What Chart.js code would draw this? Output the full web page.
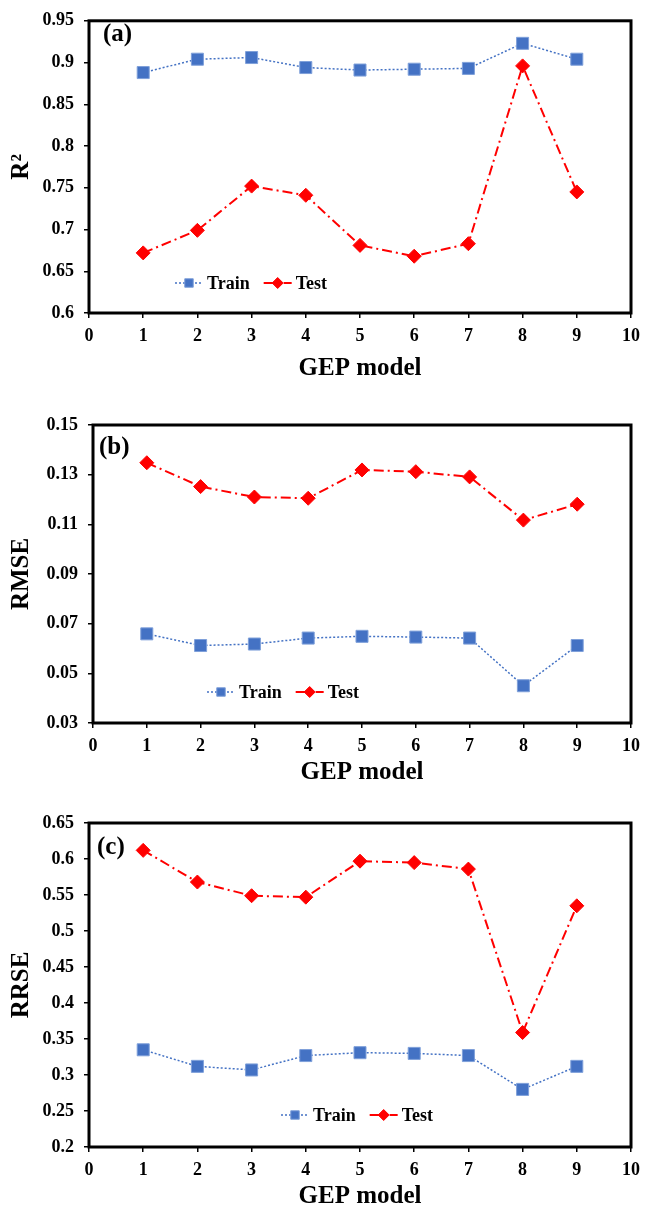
<!DOCTYPE html>
<html>
<head>
<meta charset="utf-8">
<title>GEP model</title>
<script src="https://cdn.jsdelivr.net/npm/chart.js@4.4.0/dist/chart.umd.min.js"></script>
<style>
    body { margin: 0; background: #ffffff; }
    canvas { display: block; }
</style>
</head>
<body>
<canvas id="chartA" width="648" height="400"></canvas>
<canvas id="chartB" width="648" height="395"></canvas>
<canvas id="chartC" width="648" height="415"></canvas>
<script>
// Data
var models = [1, 2, 3, 4, 5, 6, 7, 8, 9];
var xTicks = [0, 1, 2, 3, 4, 5, 6, 7, 8, 9, 10];

var r2Train = [0.888, 0.904, 0.906, 0.894, 0.891, 0.892, 0.893, 0.923, 0.904];
var r2Test = [0.672, 0.699, 0.752, 0.741, 0.681, 0.668, 0.683, 0.896, 0.745];
var r2Ticks = [0.6, 0.65, 0.7, 0.75, 0.8, 0.85, 0.9, 0.95];

var rmseTrain = [0.0659, 0.0612, 0.0618, 0.0642, 0.0649, 0.0646, 0.0642, 0.0450, 0.0612];
var rmseTest = [0.1348, 0.1252, 0.1210, 0.1205, 0.1319, 0.1312, 0.1291, 0.1117, 0.1181];
var rmseTicks = [0.03, 0.05, 0.07, 0.09, 0.11, 0.13, 0.15];

var rrseTrain = [0.335, 0.312, 0.307, 0.327, 0.331, 0.330, 0.327, 0.280, 0.312];
var rrseTest = [0.612, 0.568, 0.549, 0.547, 0.597, 0.595, 0.586, 0.359, 0.535];
var rrseTicks = [0.2, 0.25, 0.3, 0.35, 0.4, 0.45, 0.5, 0.55, 0.6, 0.65];

var FONT = "'Liberation Serif', 'Times New Roman', serif";
var BLUE = "#4472C4";
var RED = "#FF0000";

function toPoints(values) {
    return models.map(function (m, i) {
        return { x: m, y: values[i] };
    });
}

// box round the plot, panel letter and the legend inside the plot
var framePlugin = {
    id: "frame",
    afterDraw: function (chart) {
        var ctx = chart.ctx;
        var area = chart.chartArea;
        var o = chart.options.plugins.frame;
        ctx.save();
        ctx.strokeStyle = "#000";
        ctx.lineWidth = 3;
        ctx.strokeRect(area.left, area.top, area.right - area.left, area.bottom - area.top);

        ctx.fillStyle = "#000";
        ctx.font = "bold 25px " + FONT;
        ctx.textBaseline = "middle";
        ctx.textAlign = "left";
        ctx.fillText(o.panel, o.panelX, o.panelY);

        // legend
        var x = o.legendX;
        var y = o.legendY;
        ctx.font = "bold 18px " + FONT;
        chart.data.datasets.forEach(function (ds) {
            ctx.strokeStyle = ds.borderColor;
            ctx.lineWidth = ds.borderWidth;
            ctx.setLineDash(ds.borderDash);
            ctx.beginPath();
            ctx.moveTo(x, y);
            ctx.lineTo(x + 28, y);
            ctx.stroke();
            ctx.setLineDash([]);
            ctx.fillStyle = ds.pointBackgroundColor;
            ctx.strokeStyle = ds.pointBorderColor;
            ctx.lineWidth = 1;
            Chart.helpers.drawPoint(ctx, {
                pointStyle: ds.pointStyle,
                rotation: 0,
                radius: ds.pointStyle === "rect" ? 6 : 5.5,
                borderWidth: 1
            }, x + 14, y);
            ctx.fillStyle = "#000";
            ctx.fillText(ds.label, x + 32, y + 1);
            x += 32 + ctx.measureText(ds.label).width + 14;
        });
        ctx.restore();
    }
};

function makeChart(id, opts) {
    var ctx = document.getElementById(id).getContext("2d");
    var h = ctx.canvas.height;

    var chartData = {
        datasets: [
            {
                label: "Train",
                data: toPoints(opts.train),
                borderColor: BLUE,
                borderWidth: 1.5,
                borderDash: [2, 2],
                pointStyle: "rect",
                pointRadius: 8.5,
                pointBackgroundColor: BLUE,
                pointBorderColor: "#7FA0DA",
                pointBorderWidth: 1
            },
            {
                label: "Test",
                data: toPoints(opts.test),
                borderColor: RED,
                borderWidth: 2,
                borderDash: [10, 4, 2, 4],
                pointStyle: "rectRot",
                pointRadius: 7,
                pointBackgroundColor: RED,
                pointBorderColor: RED,
                pointBorderWidth: 1
            }
        ]
    };

    var chartOptions = {
        responsive: false,
        animation: false,
        layout: {
            padding: { top: opts.top, right: opts.right, left: 0, bottom: 0 }
        },
        plugins: {
            legend: { display: false },
            tooltip: { enabled: false },
            frame: {
                panel: opts.panel,
                panelX: opts.panelX,
                panelY: opts.panelY,
                legendX: opts.legendX,
                legendY: opts.legendY
            }
        },
        scales: {
            x: {
                type: "linear",
                min: 0,
                max: 10,
                afterBuildTicks: function (scale) {
                    scale.ticks = xTicks.map(function (v) { return { value: v }; });
                },
                afterFit: function (scale) {
                    scale.height = h - opts.bottom;
                },
                border: { display: false },
                grid: {
                    drawOnChartArea: false,
                    drawTicks: true,
                    tickLength: 5,
                    color: "#000",
                    lineWidth: 1.5
                },
                ticks: {
                    color: "#000",
                    padding: opts.xPad,
                    maxRotation: 0,
                    font: { family: FONT, size: 18, weight: "bold" }
                },
                title: {
                    display: true,
                    text: "GEP model",
                    color: "#000",
                    padding: { top: 0, bottom: opts.titlePad },
                    font: { family: FONT, size: 25, weight: "bold", lineHeight: 1 }
                }
            },
            y: {
                min: opts.ticks[0],
                max: opts.ticks[opts.ticks.length - 1],
                afterBuildTicks: function (scale) {
                    scale.ticks = opts.ticks.map(function (v) { return { value: v }; });
                },
                afterFit: function (scale) {
                    scale.width = opts.left;
                },
                border: { display: false },
                grid: {
                    drawOnChartArea: false,
                    drawTicks: true,
                    tickLength: 5,
                    color: "#000",
                    lineWidth: 1.5
                },
                ticks: {
                    color: "#000",
                    padding: 10,
                    font: { family: FONT, size: 18, weight: "bold" },
                    callback: function (v) { return String(+v.toFixed(2)); }
                },
                title: {
                    display: true,
                    text: opts.yTitle,
                    color: "#000",
                    padding: { top: 9, bottom: 0 },
                    font: { family: FONT, size: 25, weight: "bold", lineHeight: 1 }
                }
            }
        }
    };

    return new Chart(ctx, {
        type: "line",
        data: chartData,
        options: chartOptions,
        plugins: [framePlugin]
    });
}

makeChart("chartA", {
    train: r2Train, test: r2Test, ticks: r2Ticks, yTitle: "R\u00b2",
    top: 15, bottom: 313, left: 89, right: 12, xPad: 8, titlePad: 19,
    panel: "(a)", panelX: 103, panelY: 35, legendX: 175, legendY: 283
});
makeChart("chartB", {
    train: rmseTrain, test: rmseTest, ticks: rmseTicks, yTitle: "RMSE",
    top: 25, bottom: 323, left: 93, right: 10, xPad: 8, titlePad: 10,
    panel: "(b)", panelX: 99, panelY: 48, legendX: 207, legendY: 292
});
makeChart("chartC", {
    train: rrseTrain, test: rrseTest, ticks: rrseTicks, yTitle: "RRSE",
    top: 28, bottom: 352, left: 89, right: 12, xPad: 8, titlePad: 1,
    panel: "(c)", panelX: 97, panelY: 53, legendX: 281, legendY: 320
});
</script>
</body>
</html>
